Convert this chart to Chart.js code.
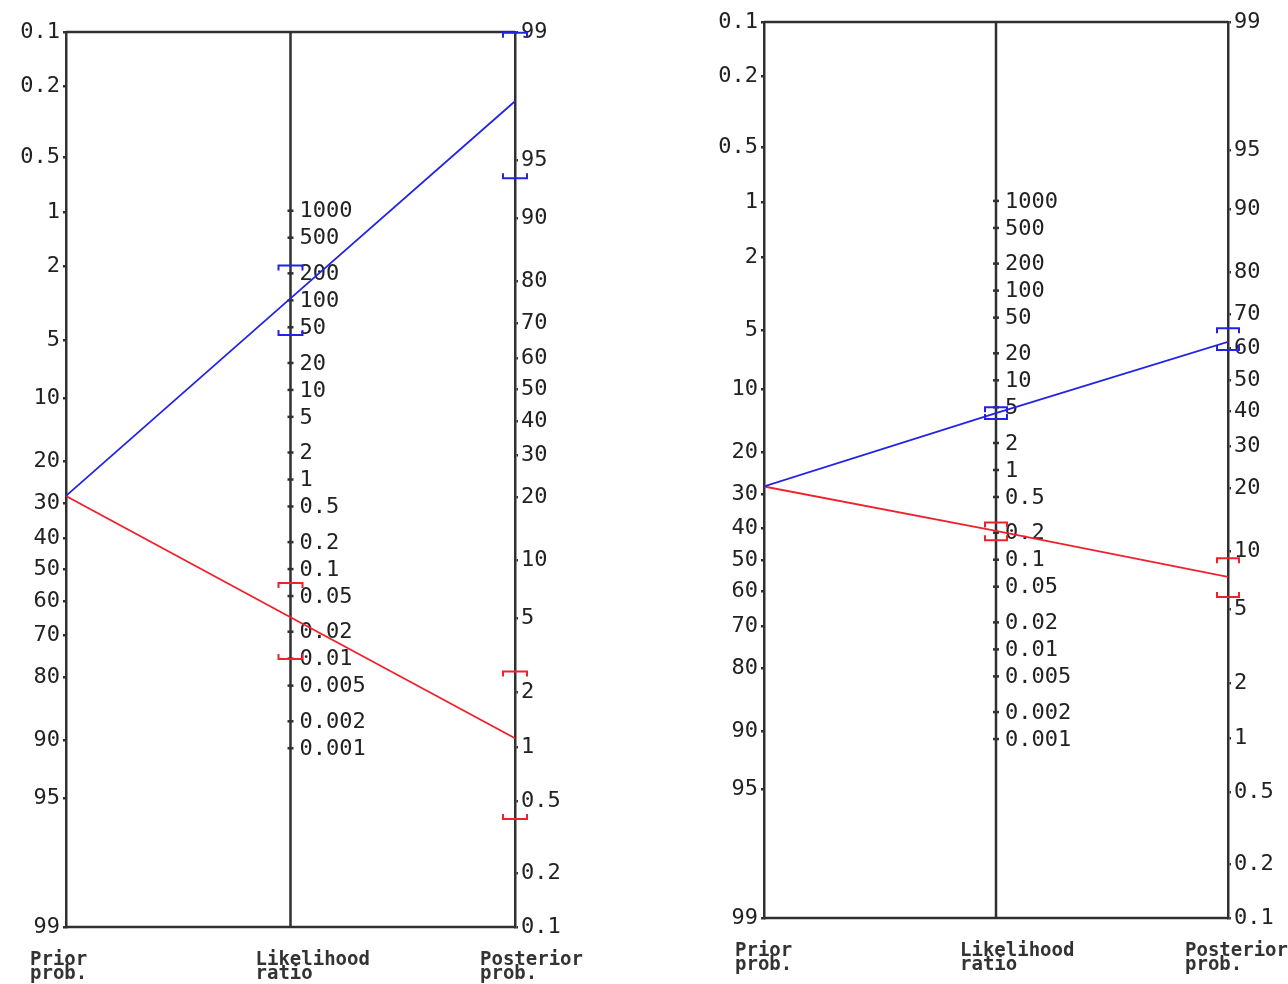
<!DOCTYPE html>
<html lang="en">
<head>
<meta charset="UTF-8">
<title>Fagan nomogram</title>
<script src="https://cdn.jsdelivr.net/npm/chart.js"></script>
<style>
    body { margin: 0; background: #fff; }
    .panel { position: absolute; top: 0; width: 600px; height: 984px; }
</style>
</head>
<body>
<div class="panel" style="left:0"><canvas id="nomoA" width="600" height="984"></canvas></div>
<div class="panel" style="left:688px"><canvas id="nomoB" width="600" height="984"></canvas></div>
<script>
    // axis scales (percent / ratio)
    const priorTicks = [0.1, 0.2, 0.5, 1, 2, 5, 10, 20, 30, 40, 50, 60, 70, 80, 90, 95, 99];
    const posteriorTicks = [99, 95, 90, 80, 70, 60, 50, 40, 30, 20, 10, 5, 2, 1, 0.5, 0.2, 0.1];
    const lrTicks = [1000, 500, 200, 100, 50, 20, 10, 5, 2, 1, 0.5, 0.2, 0.1, 0.05, 0.02, 0.01, 0.005, 0.002, 0.001];
    const bottomLabels = [['Prior', 'prob.'], ['Likelihood', 'ratio'], ['Posterior', 'prob.']];

    // left nomogram: [positive test, negative test]
    const priorA = 28;
    const lrA = [105, 0.029];
    const lrLowA = [41, 0.0099];
    const lrHighA = [245, 0.07];
    const postA = [97.6, 1.12];
    const postLowA = [93.8, 0.4];
    const postHighA = [98.99, 2.6];

    // right nomogram
    const priorB = 28;
    const lrB = [4.3, 0.21];
    const lrLowB = [3.7, 0.165];
    const lrHighB = [5.0, 0.26];
    const postB = [62, 7.4];
    const postLowB = [59.5, 5.8];
    const postHighB = [66, 9.2];

    const lineColors = ['#2323e6', '#f0202c'];
    const axisColor = '#303030';
    const tickFont = '"DejaVu Sans Mono"';

    const logit = p => Math.log(p / (1 - p));
    const TOP = logit(0.99), BOT = logit(0.001);
    const SPAN = TOP - BOT;
    const uPrior = p => logit(p / 100) - BOT;
    const uPost = p => TOP - logit(p / 100);
    const uLR = lr => (SPAN - Math.log(lr)) / 2;

    function drawCap(ctx, x, y, half, dir, color) {
        ctx.strokeStyle = color;
        ctx.lineWidth = 2;
        ctx.beginPath();
        ctx.moveTo(x - half, y + dir * 5);
        ctx.lineTo(x - half, y);
        ctx.lineTo(x + half, y);
        ctx.lineTo(x + half, y + dir * 5);
        ctx.stroke();
    }

    const nomogramPlugin = {
        id: 'nomogram',
        beforeDatasetsDraw(chart, args, opts) {
            const ctx = chart.ctx;
            const area = chart.chartArea;
            const xs = chart.scales.x, ys = chart.scales.y;
            const xm = xs.getPixelForValue(0.5);
            ctx.save();
            ctx.strokeStyle = axisColor;
            ctx.lineWidth = 2.5;
            ctx.beginPath();
            ctx.moveTo(area.left, area.top); ctx.lineTo(area.right, area.top);
            ctx.moveTo(area.left, area.bottom); ctx.lineTo(area.right, area.bottom);
            ctx.moveTo(xm, area.top); ctx.lineTo(xm, area.bottom);
            ctx.stroke();
            // likelihood ratio ticks and labels
            ctx.fillStyle = '#222';
            ctx.font = '22px ' + tickFont;
            ctx.textAlign = 'left';
            ctx.textBaseline = 'middle';
            lrTicks.forEach(lr => {
                const y = ys.getPixelForValue(uLR(lr));
                ctx.beginPath();
                ctx.moveTo(xm - 3, y); ctx.lineTo(xm + 3, y);
                ctx.stroke();
                ctx.fillText(String(lr), xm + 9, y + 1);
            });
            // axis names under the frame
            ctx.font = 'bold 19px "DejaVu Sans Mono"';
            ctx.fillStyle = '#333';
            [0, 0.5, 1].forEach((v, i) => {
                const x = xs.getPixelForValue(v) + opts.nameDx[i];
                ctx.fillText(bottomLabels[i][0], x, area.bottom + 33);
                ctx.fillText(bottomLabels[i][1], x, area.bottom + 47);
            });
            ctx.restore();
        },
        afterDatasetsDraw(chart, args, opts) {
            const ctx = chart.ctx;
            const xs = chart.scales.x, ys = chart.scales.y;
            const xm = xs.getPixelForValue(0.5), xr = xs.getPixelForValue(1);
            const d = opts.data;
            ctx.save();
            [0, 1].forEach(i => {
                drawCap(ctx, xm, ys.getPixelForValue(uLR(d.lrHigh[i])), opts.half, 1, lineColors[i]);
                drawCap(ctx, xm, ys.getPixelForValue(uLR(d.lrLow[i])), opts.half, -1, lineColors[i]);
                drawCap(ctx, xr, ys.getPixelForValue(uPost(d.postHigh[i])), opts.half, 1, lineColors[i]);
                drawCap(ctx, xr, ys.getPixelForValue(uPost(d.postLow[i])), opts.half, -1, lineColors[i]);
            });
            ctx.restore();
        }
    };

    function probAxis(position, ticks, toU, width) {
        return {
            position: position,
            min: 0,
            max: SPAN,
            reverse: true,
            afterBuildTicks: scale => {
                scale.ticks = ticks.map(t => ({ value: toU(t) }));
            },
            afterFit: scale => { scale.width = width; },
            ticks: {
                autoSkip: false,
                padding: 3,
                color: '#222',
                font: { family: 'DejaVu Sans Mono', size: 22 },
                callback: (v, i) => String(ticks[i])
            },
            grid: { drawOnChartArea: false, drawTicks: true, tickLength: 3, color: axisColor, lineWidth: 2.5 },
            border: { display: true, color: axisColor, width: 2.5 }
        };
    }

    function makeNomogram(id, d, geom) {
        const datasets = [0, 1].map(i => ({
            data: [
                { x: 0, y: uPrior(d.prior) },
                { x: 0.5, y: uLR(d.lr[i]) },
                { x: 1, y: uPost(d.post[i]) }
            ],
            showLine: true,
            borderColor: lineColors[i],
            borderWidth: 1.8,
            pointRadius: 0,
            tension: 0
        }));
        new Chart(document.getElementById(id).getContext('2d'), {
            type: 'scatter',
            data: { datasets: datasets },
            options: {
                responsive: false,
                animation: false,
                layout: { padding: { top: geom.top, bottom: geom.bottom, left: 0, right: 0 } },
                plugins: {
                    legend: { display: false },
                    tooltip: { enabled: false },
                    nomogram: { data: d, half: geom.half, nameDx: geom.nameDx }
                },
                scales: {
                    x: { type: 'linear', min: 0, max: 1, display: false },
                    y: probAxis('left', priorTicks, uPrior, geom.leftW),
                    y2: probAxis('right', posteriorTicks, uPost, geom.rightW)
                }
            },
            plugins: [nomogramPlugin]
        });
    }

    makeNomogram('nomoA', {
        prior: priorA, lr: lrA, lrLow: lrLowA, lrHigh: lrHighA,
        post: postA, postLow: postLowA, postHigh: postHighA
    }, { top: 32, bottom: 57, leftW: 66, rightW: 85, half: 12, nameDx: [-36, -35, -35] });

    makeNomogram('nomoB', {
        prior: priorB, lr: lrB, lrLow: lrLowB, lrHigh: lrHighB,
        post: postB, postLow: postLowB, postHigh: postHighB
    }, { top: 22, bottom: 66, leftW: 76, rightW: 60, half: 11, nameDx: [-29, -36, -43] });
</script>
</body>
</html>
